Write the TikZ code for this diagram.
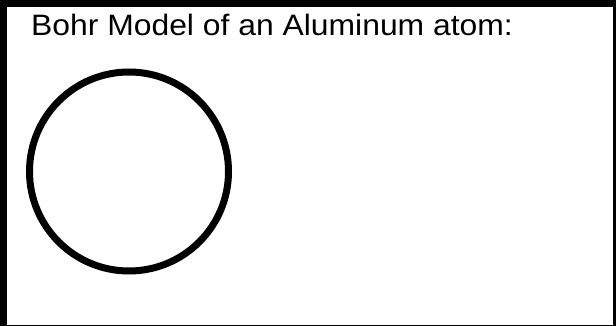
\documentclass[tikz,border=0pt]{standalone}
\usepackage{fontspec}
\setmainfont{Liberation Sans}
\begin{document}
\begin{tikzpicture}[x=1pt,y=-1pt]
    \useasboundingbox (0,0) rectangle (616,326);
    % frame, partly cut off at the right and bottom
    \draw[line width=7pt] (3.5,3.5) rectangle (616.5,328);
    \node[anchor=base west, inner sep=0pt, font=\fontsize{29.5}{32}\selectfont] (title) at (31,35.5) {\scalebox{1.08}[1]{Bohr Model of an Aluminum atom:}};
    \node[circle, draw, line width=7pt, minimum size=199pt, inner sep=0pt] (shell) at (129,171.5) {};
\end{tikzpicture}
\end{document}
